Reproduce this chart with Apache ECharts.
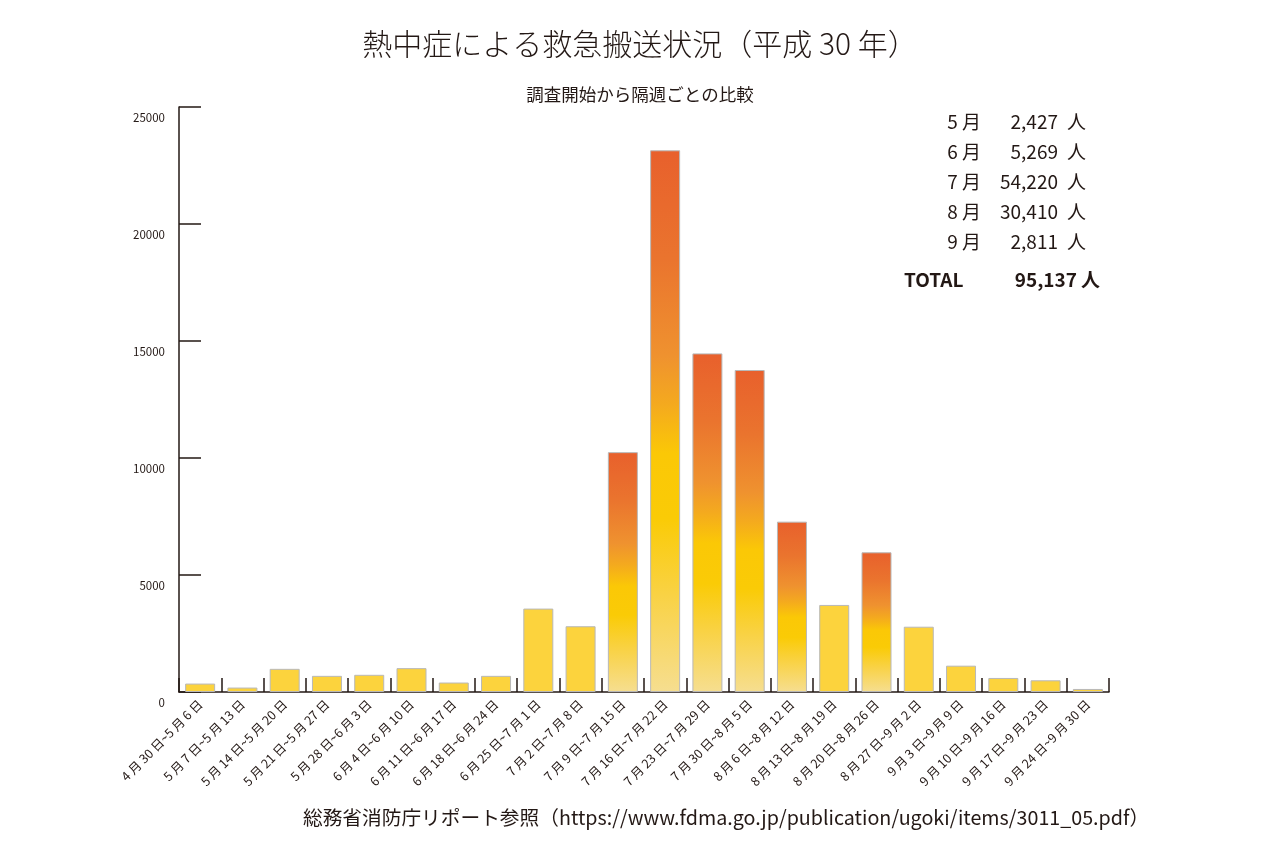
<!DOCTYPE html>
<html>
<head>
<meta charset="utf-8">
<script src="https://cdn.jsdelivr.net/npm/echarts@6/dist/echarts.min.js"></script>
<style>
html,body{margin:0;padding:0;background:#fff;}
#chart{width:1280px;height:860px;}
</style>
</head>
<body>
<div id="chart"></div>
<script>
// ---- data ----
const weeks = [
  '4 月 30 日~5 月 6 日','5 月 7 日~5 月 13 日','5 月 14 日~5 月 20 日','5 月 21 日~5 月 27 日',
  '5 月 28 日~6 月 3 日','6 月 4 日~6 月 10 日','6 月 11 日~6 月 17 日','6 月 18 日~6 月 24 日',
  '6 月 25 日~7 月 1 日','7 月 2 日~7 月 8 日','7 月 9 日~7 月 15 日','7 月 16 日~7 月 22 日',
  '7 月 23 日~7 月 29 日','7 月 30 日~8 月 5 日','8 月 6 日~8 月 12 日','8 月 13 日~8 月 19 日',
  '8 月 20 日~8 月 26 日','8 月 27 日~9 月 2 日','9 月 3 日~9 月 9 日','9 月 10 日~9 月 16 日',
  '9 月 17 日~9 月 23 日','9 月 24 日~9 月 30 日'
];
const patients = [360, 190, 990, 690, 735, 1020, 405, 690, 3565, 2810, 10250, 23150,
                  14470, 13760, 7280, 3720, 5970, 2790, 1125, 600, 500, 130];
const monthNames = ['5 月','6 月','7 月','8 月','9 月'];
const monthTotals = [2427, 5269, 54220, 30410, 2811];
const yTicks = [0, 5000, 10000, 15000, 20000, 25000];
const gradientWeeks = ['7 月 9 日~7 月 15 日','7 月 16 日~7 月 22 日','7 月 23 日~7 月 29 日',
                       '7 月 30 日~8 月 5 日','8 月 6 日~8 月 12 日','8 月 20 日~8 月 26 日'];

const titleText = '熱中症による救急搬送状況（平成 30 年）';
const subText = '調査開始から隔週ごとの比較';
const footText = '総務省消防庁リポート参照（https://www.fdma.go.jp/publication/ugoki/items/3011_05.pdf）';

// ---- styles ----
const FONT = '"Noto Sans CJK JP", "Noto Sans", sans-serif';
const INK = '#231815';
const hotGradient = new echarts.graphic.LinearGradient(0, 0, 0, 1, [
  {offset: 0, color: '#E8602C'},
  {offset: 0.2, color: '#EA742E'},
  {offset: 0.38, color: '#EF922F'},
  {offset: 0.47, color: '#F4AA1E'},
  {offset: 0.56, color: '#FBC806'},
  {offset: 0.68, color: '#FACB06'},
  {offset: 0.82, color: '#F9D244'},
  {offset: 1, color: '#F6DE90'}
]);

const barData = patients.map((v, i) => ({
  value: v,
  itemStyle: {
    color: gradientWeeks.includes(weeks[i]) ? hotGradient : '#FCD33D'
  }
}));

const fmt = n => n.toLocaleString('en-US');
const grandTotal = monthTotals.reduce((a, b) => a + b, 0);

const graphics = [];
monthNames.forEach((m, i) => {
  const y = 122 + i * 30;
  graphics.push({type: 'text', x: 981, y: y, style: {text: m, font: '400 19px ' + FONT, fill: INK, textAlign: 'right', textVerticalAlign: 'middle'}});
  graphics.push({type: 'text', x: 1058, y: y, style: {text: fmt(monthTotals[i]), font: '400 19px ' + FONT, fill: INK, textAlign: 'right', textVerticalAlign: 'middle'}});
  graphics.push({type: 'text', x: 1067, y: y, style: {text: '人', font: '400 19px ' + FONT, fill: INK, textAlign: 'left', textVerticalAlign: 'middle'}});
});
graphics.push({type: 'text', x: 904, y: 280, style: {text: 'TOTAL', font: '700 19px ' + FONT, fill: INK, textAlign: 'left', textVerticalAlign: 'middle'}});
graphics.push({type: 'text', x: 1077, y: 280, style: {text: fmt(grandTotal), font: '700 19px ' + FONT, fill: INK, textAlign: 'right', textVerticalAlign: 'middle'}});
graphics.push({type: 'text', x: 1081, y: 280, style: {text: '人', font: '700 19px ' + FONT, fill: INK, textAlign: 'left', textVerticalAlign: 'middle'}});
graphics.push({type: 'text', x: 303, y: 818, style: {text: footText, font: '400 19.7px ' + FONT, fill: INK, textAlign: 'left', textVerticalAlign: 'middle'}});

const chart = echarts.init(document.getElementById('chart'), null, {renderer: 'canvas'});
chart.setOption({
  backgroundColor: '#fff',
  animation: false,
  textStyle: {fontFamily: FONT, color: INK},
  title: [
    {text: titleText, left: 'center', top: 24, textStyle: {fontFamily: FONT, fontSize: 30, fontWeight: 300, color: INK}},
    {text: subText, left: 'center', top: 81, textStyle: {fontFamily: FONT, fontSize: 17.5, fontWeight: 400, color: INK}}
  ],
  grid: {left: 179, right: 171, top: 107, bottom: 168, containLabel: false},
  xAxis: {
    type: 'category',
    data: weeks,
    axisLine: {lineStyle: {color: INK, width: 1.5}},
    axisTick: {show: true, inside: true, length: 14, lineStyle: {color: INK, width: 1.5}},
    axisLabel: {rotate: 45, fontSize: 12.5, color: INK, fontFamily: FONT, margin: 10, interval: 0}
  },
  yAxis: {
    type: 'value',
    min: yTicks[0],
    max: yTicks[yTicks.length - 1],
    interval: yTicks[1] - yTicks[0],
    splitLine: {show: false},
    axisLine: {show: true, lineStyle: {color: INK, width: 1.5}},
    axisTick: {show: true, inside: true, length: 22, lineStyle: {color: INK, width: 1.5}},
    axisLabel: {fontSize: 11.5, color: INK, fontFamily: FONT, margin: 14, verticalAlign: 'top', padding: [5, 0, 0, 0],
                formatter: v => String(v)}
  },
  series: [{
    type: 'bar',
    data: barData,
    barWidth: 30,
    itemStyle: {borderColor: '#B8B8B8', borderWidth: 1}
  }],
  graphic: graphics
});
</script>
</body>
</html>
